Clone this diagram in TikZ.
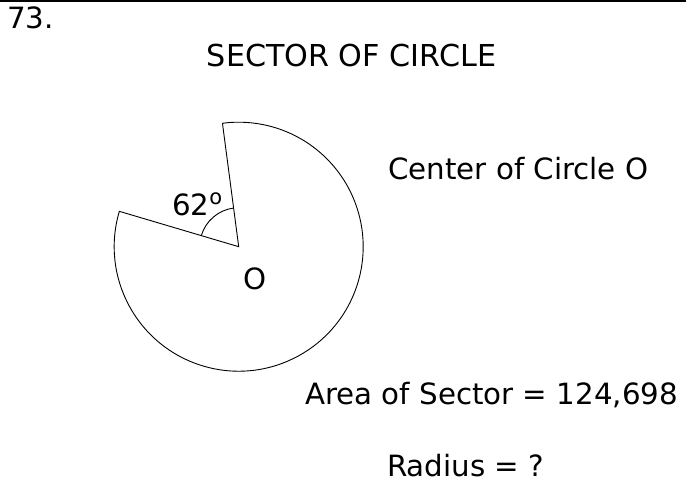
\documentclass[tikz,border=0pt]{standalone}
\usepackage{fontspec}
\setmainfont{DejaVu Sans}
\usetikzlibrary{positioning}

\tikzset{lbl/.style={inner sep=0pt,font=\fontsize{29.3}{35}\selectfont}}

\begin{document}
\begin{tikzpicture}[x=1pt,y=1pt]
\useasboundingbox (0,0) rectangle (686,487);
\draw[line width=2pt] (0,486) -- (686,486);
\node[lbl,anchor=base west] (num) at (7,458){73.};
\node[lbl,anchor=base,font=\fontsize{30.2}{36}\selectfont] (title) at (351.5,420){SECTOR OF CIRCLE};
% sector with the cut out angle
\coordinate (O) at (238.7,240.3);
\draw[line width=0.9pt] (O) ++(97.5:124.5) coordinate (A) -- (O) -- ++(163.5:124.5) coordinate (B)
  arc[start angle=163.5,end angle=457.5,radius=124.5];
\draw[line width=0.9pt] (O) ++(97.5:39) arc[start angle=97.5,end angle=163.5,radius=39];
\node[lbl,anchor=base west] (ang) at (172,271){62\raisebox{0.38em}{\fontsize{21}{24}\selectfont o}};
\node[lbl,anchor=base] (olbl) at (255,197){O};
\node[lbl,anchor=base west] (center) at (388,307){Center of Circle O};
\node[lbl,anchor=base west] (area) at (305,82){Area of Sector = 124,698};
\node[lbl,anchor=base west] (radius) at (387,10){Radius = ?};
\end{tikzpicture}
\end{document}
